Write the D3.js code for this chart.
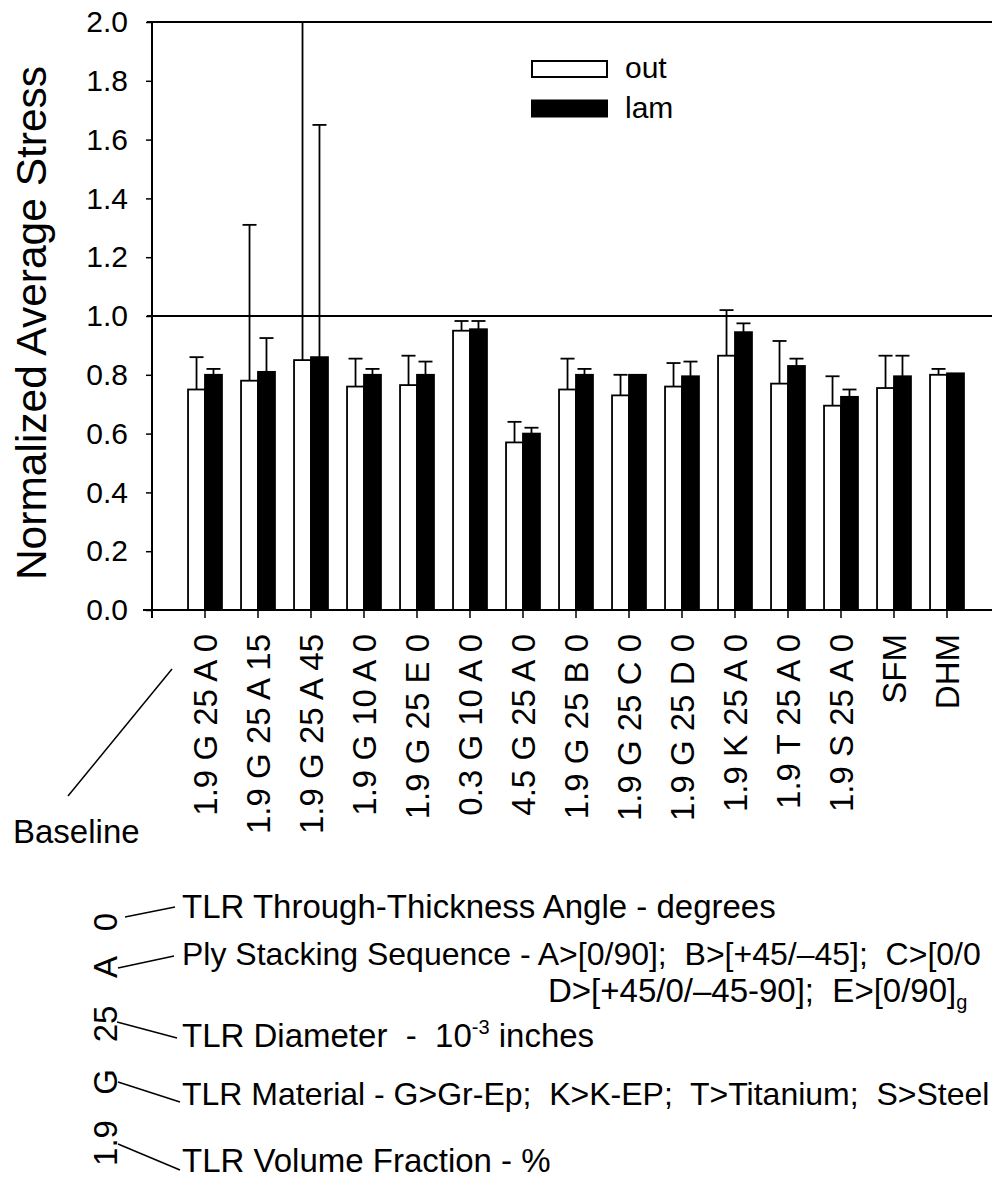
<!DOCTYPE html>
<html>
<head>
<meta charset="utf-8">
<script src="https://cdn.jsdelivr.net/npm/d3@7"></script>
<style>
  body { margin: 0; background: #fff; }
  svg { display: block; font-family: "Liberation Sans", Arial, sans-serif; }
  text { white-space: pre; }
</style>
</head>
<body>
<script>
const categories = ["1.9 G 25 A 0", "1.9 G 25 A 15", "1.9 G 25 A 45", "1.9 G 10 A 0", "1.9 G 25 E 0",
  "0.3 G 10 A 0", "4.5 G 25 A 0", "1.9 G 25 B 0", "1.9 G 25 C 0", "1.9 G 25 D 0",
  "1.9 K 25 A 0", "1.9 T 25 A 0", "1.9 S 25 A 0", "SFM", "DHM"];
const series = ["out", "lam"];
const outMean = [0.75, 0.78, 0.85, 0.76, 0.765, 0.95, 0.57, 0.75, 0.73, 0.76, 0.865, 0.77, 0.695, 0.755, 0.80];
const outErr  = [0.11, 0.53, 1.25, 0.095, 0.10, 0.033, 0.07, 0.105, 0.07, 0.08, 0.155, 0.145, 0.10, 0.11, 0.02];
const lamMean = [0.80, 0.81, 0.86, 0.80, 0.80, 0.955, 0.60, 0.80, 0.80, 0.795, 0.945, 0.83, 0.725, 0.795, 0.805];
const lamErr  = [0.02, 0.115, 0.79, 0.02, 0.045, 0.028, 0.02, 0.02, 0, 0.05, 0.03, 0.025, 0.025, 0.07, 0];
const yTicks = [0, 0.2, 0.4, 0.6, 0.8, 1.0, 1.2, 1.4, 1.6, 1.8, 2.0];

const width = 992, height = 1185;
const marginLeft = 152, marginTop = 22, plotBottom = 610, plotRight = 1000;

const data = categories.map((c, i) => ({
  cat: c,
  values: [
    {key: "out", mean: outMean[i], err: outErr[i]},
    {key: "lam", mean: lamMean[i], err: lamErr[i]}
  ]
}));

const x = d3.scaleBand()
    .domain(categories)
    .range([marginLeft, plotRight])
    .paddingInner(0.36)
    .paddingOuter(0.68);

const xs = d3.scaleBand()
    .domain(series)
    .range([0, x.bandwidth()]);

const y = d3.scaleLinear()
    .domain([0, 2])
    .range([plotBottom, marginTop]);

const fill = {out: "#fff", lam: "#000"};

const svg = d3.select("body").append("svg")
    .attr("width", width)
    .attr("height", height);

svg.append("defs").append("clipPath")
    .attr("id", "plot")
  .append("rect")
    .attr("x", marginLeft)
    .attr("y", marginTop)
    .attr("width", plotRight - marginLeft)
    .attr("height", plotBottom - marginTop);

// y axis
const yAxis = svg.append("g")
    .attr("transform", `translate(${marginLeft},0)`)
    .call(d3.axisLeft(y).tickValues(yTicks).tickFormat(d3.format(".1f")).tickSize(6).tickPadding(18))
    .call(g => g.select(".domain").remove());
yAxis.selectAll(".tick line").attr("stroke-width", 1.5);
yAxis.selectAll(".tick text")
    .attr("font-size", 30)
    .attr("font-family", "Liberation Sans, Arial, sans-serif")
    .attr("fill", "#000");

svg.append("line")
    .attr("x1", marginLeft).attr("x2", marginLeft)
    .attr("y1", marginTop).attr("y2", plotBottom + 8)
    .attr("stroke", "#000").attr("stroke-width", 2);

// top frame and reference line at 1.0
svg.append("line")
    .attr("x1", marginLeft - 5).attr("x2", width)
    .attr("y1", y(2)).attr("y2", y(2))
    .attr("stroke", "#000").attr("stroke-width", 2);
svg.append("line")
    .attr("x1", marginLeft - 5).attr("x2", width)
    .attr("y1", y(1)).attr("y2", y(1))
    .attr("stroke", "#000").attr("stroke-width", 2.2);

svg.append("text")
    .attr("transform", "translate(46,323) rotate(-90)")
    .attr("text-anchor", "middle")
    .attr("font-size", 42.5)
    .text("Normalized Average Stress");

// bars
const groups = svg.append("g")
    .attr("clip-path", "url(#plot)")
  .selectAll("g")
  .data(data)
  .join("g")
    .attr("transform", d => `translate(${x(d.cat)},0)`);

groups.selectAll("rect")
  .data(d => d.values)
  .join("rect")
    .attr("x", d => xs(d.key))
    .attr("y", d => y(d.mean))
    .attr("width", xs.bandwidth())
    .attr("height", d => y(0) - y(d.mean))
    .attr("fill", d => fill[d.key])
    .attr("stroke", "#000")
    .attr("stroke-width", 1.8);

const err = groups.selectAll("g.err")
  .data(d => d.values.filter(v => v.err > 0))
  .join("g")
    .attr("class", "err")
    .attr("stroke", "#000")
    .attr("stroke-width", 1.8);
err.append("line")
    .attr("x1", d => xs(d.key) + xs.bandwidth() / 2)
    .attr("x2", d => xs(d.key) + xs.bandwidth() / 2)
    .attr("y1", d => y(d.mean))
    .attr("y2", d => y(d.mean + d.err));
err.append("line")
    .attr("x1", d => xs(d.key) + xs.bandwidth() / 2 - 7)
    .attr("x2", d => xs(d.key) + xs.bandwidth() / 2 + 7)
    .attr("y1", d => y(d.mean + d.err))
    .attr("y2", d => y(d.mean + d.err));

// x axis
const xAxis = svg.append("g")
    .attr("transform", `translate(0,${plotBottom})`)
    .call(d3.axisBottom(x).tickSize(8).tickFormat(""))
    .call(g => g.select(".domain").remove());
xAxis.selectAll(".tick line").attr("stroke-width", 1.5);

svg.append("line")
    .attr("x1", marginLeft - 9).attr("x2", width)
    .attr("y1", plotBottom).attr("y2", plotBottom)
    .attr("stroke", "#000").attr("stroke-width", 2);

svg.append("g")
  .selectAll("text")
  .data(categories)
  .join("text")
    .attr("transform", d => `translate(${x(d) + x.bandwidth() / 2},634) rotate(-90)`)
    .attr("dy", "0.36em")
    .attr("text-anchor", "end")
    .attr("font-size", 33)
    .text(d => d);

// legend
const legend = svg.append("g")
  .selectAll("g")
  .data(series)
  .join("g")
    .attr("transform", (d, i) => `translate(532,${61 + i * 39.5})`);
legend.append("rect")
    .attr("width", 75)
    .attr("height", 16)
    .attr("fill", d => fill[d])
    .attr("stroke", "#000")
    .attr("stroke-width", 2);
legend.append("text")
    .attr("x", 93)
    .attr("y", 17)
    .attr("font-size", 30)
    .text(d => d);

// baseline note
svg.append("line")
    .attr("x1", 68).attr("y1", 796).attr("x2", 172).attr("y2", 669)
    .attr("stroke", "#000").attr("stroke-width", 1.5);
svg.append("text")
    .attr("x", 13).attr("y", 843)
    .attr("font-size", 33)
    .text("Baseline");

// code key
const keyParts = [
  {code: "0",   cy: 922,  from: [125, 917],  to: [175, 907]},
  {code: "A",   cy: 967,  from: [118, 968],  to: [174, 956]},
  {code: "25",  cy: 1024, from: [117, 1022], to: [177, 1038]},
  {code: "G",   cy: 1082, from: [118, 1082], to: [180, 1102]},
  {code: "1.9", cy: 1143, from: [118, 1144], to: [180, 1170]}
];
svg.append("g")
  .selectAll("text")
  .data(keyParts)
  .join("text")
    .attr("transform", d => `translate(117,${d.cy}) rotate(-90)`)
    .attr("text-anchor", "middle")
    .attr("font-size", 33)
    .text(d => d.code);
svg.append("g")
  .selectAll("line")
  .data(keyParts)
  .join("line")
    .attr("x1", d => d.from[0]).attr("y1", d => d.from[1])
    .attr("x2", d => d.to[0]).attr("y2", d => d.to[1])
    .attr("stroke", "#000").attr("stroke-width", 1.5);

const keyText = svg.append("g").attr("font-size", 33);
keyText.append("text").attr("x", 182).attr("y", 918)
    .text("TLR Through-Thickness Angle - degrees");
keyText.append("text").attr("x", 182).attr("y", 965)
    .attr("font-size", 32)
    .text("Ply Stacking Sequence - A>[0/90];  B>[+45/\u201345];  C>[0/0");
const dLine = keyText.append("text").attr("x", 548).attr("y", 1002);
dLine.append("tspan").text("D>[+45/0/\u201345-90];  E>[0/90]");
dLine.append("tspan").attr("font-size", 20).attr("dy", 7).text("g");
const diam = keyText.append("text").attr("x", 182).attr("y", 1047);
diam.append("tspan").text("TLR Diameter  -  10");
diam.append("tspan").attr("font-size", 20).attr("dy", -13).text("-3");
diam.append("tspan").attr("dy", 13).text(" inches");
keyText.append("text").attr("x", 182).attr("y", 1105)
    .attr("font-size", 32)
    .text("TLR Material - G>Gr-Ep;  K>K-EP;  T>Titanium;  S>Steel");
keyText.append("text").attr("x", 182).attr("y", 1172)
    .text("TLR Volume Fraction - %");
</script>
</body>
</html>
